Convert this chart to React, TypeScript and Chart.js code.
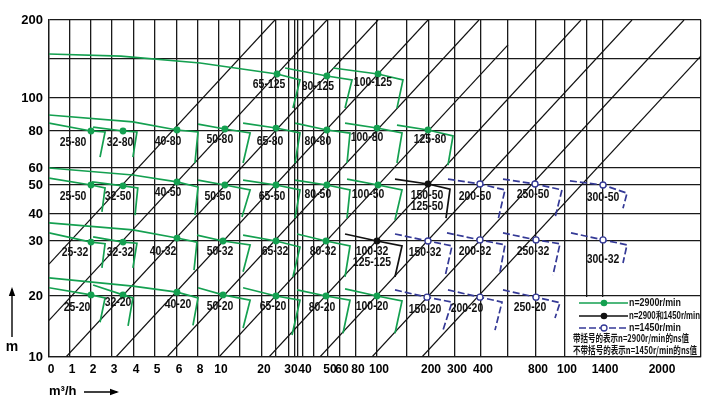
import React, { useEffect, useRef } from 'react';
import { Chart, registerables, LinearScale } from 'chart.js';

Chart.register(...registerables);

// ---------------- axes (irregular hand-drawn grid) ----------------
const X_TICKS = [0, 1, 2, 3, 4, 5, 6, 8, 10, 15, 20, 25, 30, 35, 38, 40, 45, 50, 60, 80, 100, 150, 200, 300, 400, 600, 800, 1000, 1200, 1400, 2000, 3000];
const X_TICK_LABELS = ['0', '1', '2', '3', '4', '5', '6', '8', '10', '', '20', '', '30', '', '', '40', '', '50', '60', '80', '100', '', '200', '300', '400', '', '800', '100', '', '1400', '2000', ''];
// grid-line placement across a 652-unit-wide plot
const X_TICK_POS = [0, 21, 42, 63, 85, 106, 128, 149, 170, 191, 213, 227, 240, 246, 249, 254, 265, 279, 291, 307, 328, 358, 380, 406, 432, 459, 487, 516, 538, 554, 611, 652];
const X_HIDDEN_GRID = [2000];

const Y_TICKS = [10, 20, 30, 40, 50, 60, 80, 100, 150, 200];
const Y_TICK_LABELS = ['10', '20', '30', '40', '50', '60', '80', '100', '', '200'];
const Y_TICK_POS = [0, 61, 116, 143, 172, 189, 226, 259, 298, 337];

// ---------------- data: pump curves [Q m3/h, H m] ----------------
const NAMES_125 = ['65-125', '80-125', '100-125'];
const SPEED_125 = ['g', 'g', 'g'];
const CURVES_125 = [
  [[0, 156.4], [3.4, 153.8], [8.2, 144.9], [25.4, 130.8], [38.8, 123.1], [33.3, 93.9]],
  [[28.5, 138.5], [49.6, 128.2], [75, 123.1], [66.3, 93.9]],
  [[54.2, 138.5], [101.7, 130.8], [143.3, 123.1], [133.3, 93.9]],
];
const DOTS_125 = [[25.4, 130.8], [49.6, 128.2], [101.7, 130.8]];
const LABEL_OFF_125 = [[-8, 11], [-9, 11], [-5, 9]];

const NAMES_80 = ['25-80', '32-80', '40-80', '50-80', '65-80', '80-80', '100-80', '125-80'];
const SPEED_80 = ['g', 'g', 'g', 'g', 'g', 'g', 'g', 'g'];
const CURVES_80 = [
  [[0, 84.8], [2, 80], [2.67, 79.5], [2.43, 65.9]],
  [[2.1, 82.4], [3.5, 80], [4.14, 79.5], [3.95, 65.9]],
  [[0, 89.7], [3.95, 85.5], [6, 80.6], [8, 79.5], [7.71, 62.7]],
  [[8, 84.2], [11.4, 81.2], [17.3, 78.9], [15.7, 62.7]],
  [[15.7, 84.8], [25, 81.8], [38.8, 78.9], [35, 62.7]],
  [[35, 84.8], [49.6, 80.6], [72.5, 78.9], [68.8, 62.7]],
  [[66.3, 84.8], [100, 81.8], [141.7, 78.9], [133.3, 62.7]],
  [[133.3, 83.6], [197.7, 80.6], [292.3, 77.3], [273, 61.6]],
];
const DOTS_80 = [[2, 80], [3.5, 80], [6, 80.6], [11.4, 81.2], [25, 81.8], [49.6, 80.6], [100, 81.8], [197.7, 80.6]];
const LABEL_OFF_80 = [[-18, 12], [-3, 12], [-9, 12], [-5, 11], [-6, 14], [-9, 12], [-10, 10], [2, 10]];

const NAMES_50 = ['25-50', '32-50', '40-50', '50-50', '65-50', '80-50', '100-50', '150-50\n125-50', '200-50', '250-50', '300-50'];
const SPEED_50 = ['g', 'g', 'g', 'g', 'g', 'g', 'g', 'k', 'b', 'b', 'b'];
const CURVES_50 = [
  [[0, 54.1], [2, 50], [2.67, 49], [2.52, 40.7]],
  [[2.05, 51.8], [3.5, 49.7], [4.18, 49], [4.05, 39.6]],
  [[0, 60], [3.95, 55.9], [6, 51.8], [8, 49.3], [7.71, 39.6]],
  [[8, 52.9], [11.4, 50], [17.3, 48.3], [15.45, 38.9]],
  [[15.7, 52.9], [25, 50], [38.8, 48.3], [35, 38.5]],
  [[35, 52.9], [49.6, 50], [72.5, 48.3], [68.8, 38.5]],
  [[68.8, 53.5], [101.7, 50], [141.7, 48.3], [130, 37.8]],
  [[130, 53.5], [197.7, 50.6], [280.8, 48.6], [265.4, 38.5]],
  [[273, 53.5], [396, 50.6], [577.8, 48.3], [526, 37.8]],
  [[563, 53.5], [792.9, 50.6], [979, 48.3], [931, 38.5]],
  [[1045, 52.4], [1400, 50], [1652.6, 47.2], [1610.5, 42]],
];
const DOTS_50 = [[2, 50], [3.5, 49.7], [6, 51.8], [11.4, 50], [25, 50], [49.6, 50], [101.7, 50], [197.7, 50.6], [396, 50.6], [792.9, 50.6], [1400, 50]];
const LABEL_OFF_50 = [[-18, 12], [-5, 11], [-9, 11], [-7, 12], [-4, 12], [-9, 10], [-10, 10], [-1, 12], [-5, 13], [-2, 11], [0, 13]];

const NAMES_32 = ['25-32', '32-32', '40-32', '50-32', '65-32', '80-32', '100-32\n125-125', '150-32', '200-32', '250-32', '300-32'];
const SPEED_32 = ['g', 'g', 'g', 'g', 'g', 'g', 'k', 'b', 'b', 'b', 'b'];
const CURVES_32 = [
  [[0, 33], [2, 29.8], [2.67, 29.5], [2.52, 25.1]],
  [[2.1, 31.5], [3.5, 29.8], [4.14, 29.6], [3.95, 25.1]],
  [[0, 36.7], [3.95, 34.1], [6, 31.1], [7.9, 29.8], [7.62, 24.7]],
  [[7.9, 32.2], [10.95, 30], [17.3, 29.3], [15.7, 24.4]],
  [[15.7, 32.2], [25, 30], [38.8, 28.9], [33.3, 23.5]],
  [[37, 32.6], [49.3, 30], [72.5, 29.1], [66.3, 23.5]],
  [[66.3, 32.6], [100, 30], [141.7, 29.1], [130, 23.5]],
  [[130, 32.6], [197.7, 30], [288.5, 29.1], [261.5, 23.5]],
  [[269.2, 33], [396, 30.4], [577.8, 29.3], [540.7, 24.4]],
  [[563, 33], [800, 30.4], [965.5, 29.5], [917, 23.8]],
  [[1054.5, 33], [1400, 30.4], [1652.6, 29.3], [1610.5, 26]],
];
const DOTS_32 = [[2, 29.8], [3.5, 29.8], [6, 31.1], [10.95, 30], [25, 30], [49.3, 30], [100, 30], [197.7, 30], [396, 30.4], [800, 30.4], [1400, 30.4]];
const LABEL_OFF_32 = [[-16, 11], [-3, 11], [-14, 14], [-3, 11], [-1, 11], [-3, 11], [-5, 11], [-3, 12], [-5, 12], [-3, 12], [0, 20]];

const NAMES_20 = ['25-20', '32-20', '40-20', '50-20', '65-20', '80-20', '100-20', '150-20', '200-20', '250-20'];
const SPEED_20 = ['g', 'g', 'g', 'g', 'g', 'g', 'g', 'b', 'b', 'b'];
const CURVES_20 = [
  [[0, 21.5], [2, 20.2], [2.67, 19.7], [2.43, 15.7]],
  [[2.1, 22], [3.5, 20.2], [3.95, 19.7], [3.73, 15.1]],
  [[0, 23.3], [3.95, 21.8], [6, 20.7], [8, 19.7], [7.52, 15.2]],
  [[8, 21.5], [10.95, 20.2], [17.3, 19.3], [15.7, 14.75]],
  [[15.7, 21.5], [25, 20], [38.8, 19.3], [32.5, 13.6]],
  [[37, 21.1], [49.3, 20], [72.5, 19.3], [63.75, 13.9]],
  [[66.3, 21.3], [100, 20], [141.7, 19.2], [130, 13.9]],
  [[130, 21.1], [195.5, 19.8], [288.5, 19], [253.8, 14.4]],
  [[273, 21.1], [396, 19.8], [555.6, 19], [503.7, 14.4]],
  [[563, 21.1], [800, 19.8], [965.5, 18.9], [931, 16.4]],
];
const DOTS_20 = [[2, 20.2], [3.5, 20.2], [6, 20.7], [10.95, 20.2], [25, 20], [49.3, 20], [100, 20], [195.5, 19.8], [396, 19.8], [800, 19.8]];
const LABEL_OFF_20 = [[-14, 13], [-5, 8], [1, 13], [-3, 12], [-3, 11], [-4, 12], [-5, 11], [-2, 12], [-13, 11], [-6, 10]];

// diagonal reference lines (start / end points)
const DIAG_START = [[0, 25.8], [0, 16], [0.81, 10], [3.18, 10], [5.55, 10], [10, 10], [22.5, 10], [47.1, 10], [95.2, 10], [184, 10]];
const DIAG_END = [[24.6, 200], [49.6, 200], [101.7, 200], [197.7, 200], [392, 200], [600, 168], [1145, 200], [1705, 200], [2585, 200], [3000, 154]];

const LEGEND_LABELS = ['n=2900r/min', 'n=2900和1450r/min', 'n=1450r/min'];
const LEGEND_NOTES = ['带括号的表示n=2900r/min的ns值', '不带括号的表示n=1450r/min的ns值'];

// ---------------- styles ----------------
const COLORS: Record<string, string> = { g: '#14a050', k: '#111111', b: '#343996' };
const GRID_COLOR = '#1a1a1a';
const SANS = "'Liberation Sans', Arial, sans-serif";
const PUMP_FONT = `bold 12px ${SANS}`;
const CJK_FONT = "bold 10px 'Noto Sans CJK SC', 'Liberation Sans', sans-serif";

const ROWS = [
  { names: NAMES_125, speeds: SPEED_125, curves: CURVES_125, dots: DOTS_125, off: LABEL_OFF_125 },
  { names: NAMES_80, speeds: SPEED_80, curves: CURVES_80, dots: DOTS_80, off: LABEL_OFF_80 },
  { names: NAMES_50, speeds: SPEED_50, curves: CURVES_50, dots: DOTS_50, off: LABEL_OFF_50 },
  { names: NAMES_32, speeds: SPEED_32, curves: CURVES_32, dots: DOTS_32, off: LABEL_OFF_32 },
  { names: NAMES_20, speeds: SPEED_20, curves: CURVES_20, dots: DOTS_20, off: LABEL_OFF_20 },
];

// ---------------- piecewise scale ----------------
function interp(v: number, xs: number[], ys: number[]) {
  const n = xs.length;
  let i = 0;
  if (v >= xs[n - 1]) i = n - 2;
  else if (v > xs[0]) {
    while (i < n - 2 && v > xs[i + 1]) i++;
  }
  const t = (v - xs[i]) / (xs[i + 1] - xs[i]);
  return ys[i] + t * (ys[i + 1] - ys[i]);
}

function makeScale(scaleId: string, ticks: number[], pos: number[]) {
  const total = pos[pos.length - 1];
  const fr = pos.map((p) => p / total);
  class PiecewiseScale extends (LinearScale as any) {
    static id = scaleId;
    static defaults = {};
    buildTicks() {
      return ticks.map((v) => ({ value: v }));
    }
    getPixelForValue(value: number) {
      return (this as any).getPixelForDecimal(interp(value, ticks, fr));
    }
    getValueForPixel(pixel: number) {
      return interp((this as any).getDecimalForPixel(pixel), fr, ticks);
    }
  }
  return PiecewiseScale;
}

const XScale = makeScale('pwx', X_TICKS, X_TICK_POS);
const YScale = makeScale('pwy', Y_TICKS, Y_TICK_POS);
Chart.register(XScale as any, YScale as any);

function drawText(ctx: CanvasRenderingContext2D, text: string, x: number, y: number, font: string, sx: number, align: CanvasTextAlign = 'center') {
  ctx.save();
  ctx.font = font;
  ctx.textAlign = align;
  ctx.textBaseline = 'middle';
  ctx.translate(x, y);
  ctx.scale(sx, 1);
  ctx.fillText(text, 0, 0);
  ctx.restore();
}

function fitText(ctx: CanvasRenderingContext2D, text: string, x: number, y: number, font: string, maxW: number) {
  ctx.save();
  ctx.font = font;
  const w = ctx.measureText(text).width;
  ctx.restore();
  drawText(ctx, text, x, y, font, Math.min(1, maxW / w), 'left');
}

function arrow(ctx: CanvasRenderingContext2D, x1: number, y1: number, x2: number, y2: number) {
  ctx.save();
  ctx.strokeStyle = '#000';
  ctx.fillStyle = '#000';
  ctx.lineWidth = 1.4;
  ctx.beginPath();
  ctx.moveTo(x1, y1);
  ctx.lineTo(x2, y2);
  ctx.stroke();
  const a = Math.atan2(y2 - y1, x2 - x1);
  ctx.beginPath();
  ctx.moveTo(x2 + Math.cos(a) * 2, y2 + Math.sin(a) * 2);
  ctx.lineTo(x2 - Math.cos(a) * 7 - Math.sin(a) * 3.2, y2 - Math.sin(a) * 7 + Math.cos(a) * 3.2);
  ctx.lineTo(x2 - Math.cos(a) * 7 + Math.sin(a) * 3.2, y2 - Math.sin(a) * 7 - Math.cos(a) * 3.2);
  ctx.closePath();
  ctx.fill();
  ctx.restore();
}

const overlayPlugin = {
  id: 'overlay',
  afterDatasetsDraw(chart: any) {
    const ctx: CanvasRenderingContext2D = chart.ctx;
    const xs = chart.scales.x;
    const ys = chart.scales.y;
    const area = chart.chartArea;

    // pump labels
    ROWS.forEach((row) => {
      row.names.forEach((name, i) => {
        const [q, h] = row.dots[i];
        const px = xs.getPixelForValue(q) + row.off[i][0];
        const py = ys.getPixelForValue(h) + row.off[i][1];
        name.split('\n').forEach((line, k) => {
          ctx.fillStyle = '#111';
          drawText(ctx, line, px, py + k * 11, PUMP_FONT, 0.87);
        });
      });
    });

    // legend box
    const L = xs.getPixelForValue(1000);
    const T = ys.getPixelForValue(20);
    const R = area.right;
    const B = area.bottom;
    ctx.save();
    ctx.fillStyle = '#fff';
    ctx.fillRect(L + 1, T + 1, R - L - 2, B - T - 2);
    ctx.restore();
    const rowsY = [T + 7, T + 20, T + 32];
    const kinds = ['g', 'k', 'b'];
    const maxW = [52, 71, 52];
    kinds.forEach((kd, i) => {
      const y = rowsY[i];
      ctx.save();
      ctx.strokeStyle = COLORS[kd];
      ctx.lineWidth = 1.6;
      if (kd === 'b') ctx.setLineDash([7, 3]);
      ctx.beginPath();
      ctx.moveTo(L + 14, y);
      ctx.lineTo(L + 63, y);
      ctx.stroke();
      ctx.setLineDash([]);
      ctx.beginPath();
      ctx.arc(L + 39, y, kd === 'b' ? 3 : 3.3, 0, Math.PI * 2);
      if (kd === 'b') {
        ctx.fillStyle = '#fff';
        ctx.fill();
        ctx.lineWidth = 1.3;
        ctx.stroke();
      } else {
        ctx.fillStyle = COLORS[kd];
        ctx.fill();
      }
      ctx.restore();
      ctx.fillStyle = '#111';
      fitText(ctx, LEGEND_LABELS[i], L + 64, y, `bold 10px ${SANS}`, maxW[i]);
    });
    ctx.fillStyle = '#111';
    fitText(ctx, LEGEND_NOTES[0], L + 8, T + 42, CJK_FONT, 116);
    fitText(ctx, LEGEND_NOTES[1], L + 8, T + 54, CJK_FONT, 124);

    // axis titles
    ctx.fillStyle = '#000';
    drawText(ctx, 'm', 12, 347, `bold 14px ${SANS}`, 1);
    arrow(ctx, 12, 337, 12, 289);
    drawText(ctx, 'm³/h', 49, 391, `bold 13px ${SANS}`, 1, 'left');
    arrow(ctx, 84, 392, 117, 392);
  },
};

function buildDatasets() {
  const ds: any[] = [];
  const dotSets: Record<string, any[]> = { g: [], k: [], b: [] };
  ROWS.forEach((row) => {
    row.curves.forEach((curve, i) => {
      const kd = row.speeds[i];
      ds.push({
        type: 'line',
        data: curve.map(([x, y]) => ({ x, y })),
        borderColor: COLORS[kd],
        borderWidth: 1.7,
        borderDash: kd === 'b' ? [7, 3] : [],
        pointRadius: 0,
        tension: 0,
        fill: false,
        order: 1,
      });
      const [x, y] = row.dots[i];
      dotSets[kd].push({ x, y });
    });
  });
  ['g', 'k', 'b'].forEach((kd) => {
    ds.push({
      type: 'scatter',
      data: dotSets[kd],
      showLine: false,
      pointRadius: kd === 'b' ? 3 : 3.4,
      pointBackgroundColor: kd === 'b' ? '#ffffff' : COLORS[kd],
      pointBorderColor: COLORS[kd],
      pointBorderWidth: kd === 'b' ? 1.3 : 0,
      order: 0,
    });
  });
  DIAG_START.forEach((s, i) => {
    const e = DIAG_END[i];
    ds.push({
      type: 'line',
      data: [{ x: s[0], y: s[1] }, { x: e[0], y: e[1] }],
      borderColor: '#111',
      borderWidth: 1.2,
      pointRadius: 0,
      tension: 0,
      fill: false,
      order: 2,
    });
  });
  return ds;
}

export default function App() {
  const ref = useRef<HTMLCanvasElement>(null);
  useEffect(() => {
    const chart = new Chart(ref.current as HTMLCanvasElement, {
      type: 'line',
      data: { datasets: buildDatasets() },
      options: {
        animation: false,
        responsive: false,
        events: [],
        layout: { padding: { top: 20, right: 19, left: 0, bottom: 0 } },
        plugins: { legend: { display: false }, tooltip: { enabled: false } },
        scales: {
          x: {
            type: 'pwx',
            min: 0,
            max: 3000,
            afterFit: (s: any) => { s.height = 43; },
            border: { display: true, color: GRID_COLOR, width: 1.3 },
            grid: {
              drawTicks: false,
              lineWidth: 1.3,
              color: (c: any) => (c.tick && X_HIDDEN_GRID.includes(c.tick.value) ? 'rgba(0,0,0,0)' : GRID_COLOR),
            },
            ticks: {
              autoSkip: false,
              maxRotation: 0,
              minRotation: 0,
              padding: 5,
              labelOffset: 2,
              color: '#000',
              font: { family: SANS, size: 12, weight: 'bold' },
              callback: (_v: any, i: number) => X_TICK_LABELS[i],
            },
          },
          y: {
            type: 'pwy',
            min: 10,
            max: 200,
            afterFit: (s: any) => { s.width = 49; },
            border: { display: true, color: GRID_COLOR, width: 1.3 },
            grid: { drawTicks: false, lineWidth: 1.3, color: GRID_COLOR },
            ticks: {
              autoSkip: false,
              padding: 6,
              color: '#000',
              font: { family: SANS, size: 13, weight: 'bold' },
              callback: (_v: any, i: number) => Y_TICK_LABELS[i],
            },
          },
        } as any,
      },
      plugins: [overlayPlugin],
    } as any);
    return () => chart.destroy();
  }, []);
  return (
    <div style={{ position: 'absolute', left: 0, top: 0, width: 720, height: 400, background: '#fff' }}>
      <canvas ref={ref} width={720} height={400} style={{ width: 720, height: 400 }} />
    </div>
  );
}
